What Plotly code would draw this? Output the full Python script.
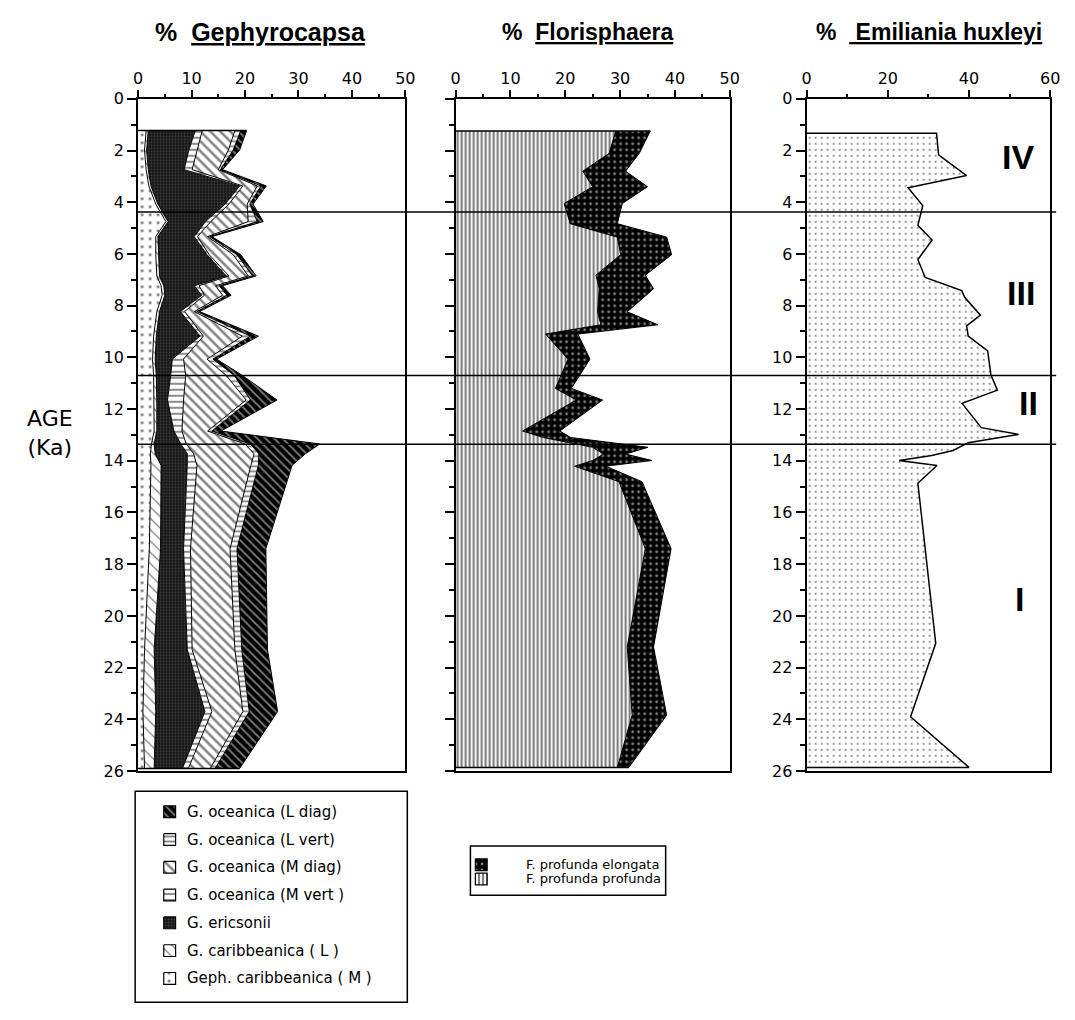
import plotly.graph_objects as go

# ---------------- DATA ----------------
# Gephyrocapsa (individual %, stacked left to right)
geph_age = [1.23, 1.98, 2.74, 3.37, 4.07, 4.75, 5.33, 6.03, 6.85, 7.23, 7.6, 8.23,
            9.18, 10.07, 10.7, 11.65, 12.85, 13.35, 13.73, 14.18, 17.4, 21.3, 23.7, 25.9]
geph_carib_M = [1.5, 1.2, 1.5, 2.0, 3.3, 5.2, 3.3, 3.3, 3.5, 4.3, 4.5, 3.5,
                2.9, 2.7, 2.9, 3.0, 3.0, 2.5, 2.3, 2.4, 2.1, 1.2, 0.9, 1.2]
geph_carib_L = [0.4, 0.4, 0.4, 0.4, 0.4, 0.4, 0.4, 0.5, 0.5, 0.5, 0.5, 0.5,
                0.5, 0.5, 0.5, 0.5, 0.5, 0.5, 0.9, 1.9, 2.1, 1.8, 2.4, 1.8]
geph_ericsonii = [8.8, 7.9, 6.7, 16.6, 12.6, 7.0, 6.8, 9.1, 12.5, 5.7, 6.9, 3.9,
                  8.2, 3.2, 2.7, 2.0, 3.2, 5.0, 6.0, 4.9, 4.3, 6.2, 9.2, 5.3]
geph_ocean_M_vert = [1.3, 1.5, 1.5, 0.6, 0.7, 1.0, 0.6, 0.4, 0.5, 0.9, 0.5, 0.8,
                     0.6, 2.1, 2.8, 3.0, 1.5, 1.0, 1.2, 1.8, 1.3, 0.9, 1.3, 1.1]
geph_ocean_M_diag = [6.1, 5.9, 4.9, 2.7, 3.4, 7.0, 1.9, 4.5, 3.6, 3.1, 3.4, 1.8,
                     7.3, 4.4, 7.6, 11.7, 4.8, 11.0, 11.3, 10.1, 7.4, 8.0, 5.8, 4.1]
geph_ocean_L_vert = [1.1, 0.9, 0.4, 0.7, 0.5, 1.7, 0.4, 0.7, 0.8, 0.7, 0.8, 0.5,
                     1.5, 1.1, 1.5, 0.8, 0.8, 1.0, 0.9, 1.4, 1.3, 1.3, 1.2, 0.9]
geph_ocean_L_diag = [1.1, 1.2, 0.4, 1.0, 0.6, 1.1, 0.4, 0.7, 0.7, 0.6, 0.8, 0.5,
                     1.5, 0.7, 1.5, 5.0, 1.7, 13.0, 8.7, 6.3, 5.4, 4.8, 5.3, 4.6]

# Florisphaera
flor_age = [1.25, 2.11, 2.8, 3.4, 4.05, 4.83, 5.35, 6.03, 6.82, 7.35, 8.24, 8.74, 9.1,
            10.07, 11.2, 11.65, 12.85, 13.1, 13.48, 13.74, 13.99, 14.21, 14.81, 17.4,
            21.2, 23.84, 25.86]
flor_profunda = [29.2, 28.0, 23.2, 25.0, 19.8, 20.9, 29.5, 30.1, 25.6, 26.2, 25.9, 26.5, 16.4,
                 20.5, 18.2, 22.0, 12.2, 16.0, 25.0, 27.0, 25.0, 21.7, 29.8, 34.6,
                 31.3, 32.2, 29.5]
flor_elongata = [6.3, 5.5, 7.8, 10.0, 10.6, 8.6, 9.0, 9.3, 9.0, 9.9, 5.4, 10.4, 5.9,
                 4.0, 2.9, 4.8, 6.8, 5.0, 10.1, 4.0, 10.8, 5.7, 4.2, 4.7,
                 4.8, 6.3, 2.1]

# Emiliania huxleyi
ehux_age = [1.33, 2.17, 2.97, 3.44, 4.13, 4.89, 5.46, 6.22, 6.91, 7.42, 7.67, 8.37, 8.78,
            9.18, 9.75, 10.68, 11.27, 11.78, 12.72, 12.98, 13.3, 13.6, 13.8, 13.99, 14.18,
            14.87, 21.06, 23.9, 25.86]
ehux = [32, 32.5, 39.4, 25, 28.6, 27.4, 30.9, 27.4, 29.2, 38.2, 38.9, 42.8, 39.4,
        39.8, 44.6, 45.4, 47, 38.3, 43, 52.2, 39.8, 36.1, 30.8, 22.8, 32.1,
        27.4, 31.8, 25.6, 40]

zone_bounds = [4.38, 10.70, 13.36]
zone_labels = ["IV", "III", "II", "I"]
zone_label_age = [2.26, 7.53, 11.76, 19.35]
zone_label_x = [52.0, 52.7, 54.7, 52.4]

age_ticks = list(range(0, 27, 2))

# ---------------- STYLE ----------------
W, H = 1075, 1020
FONT = "DejaVu Sans"

PAT = {
    "carib_M": dict(shape=".", fgcolor="black", bgcolor="white", size=8, solidity=0.12),
    "carib_L": dict(shape="\\", fgcolor="black", bgcolor="white", size=8, solidity=0.15),
    "ericsonii": dict(shape=".", fgcolor="#6e6e6e", bgcolor="#151515", size=3, solidity=0.3),
    "M_vert": dict(shape="-", fgcolor="black", bgcolor="white", size=6, solidity=0.3),
    "M_diag": dict(shape="\\", fgcolor="black", bgcolor="white", size=7, solidity=0.35),
    "L_vert": dict(shape="-", fgcolor="black", bgcolor="white", size=5, solidity=0.35),
    "L_diag": dict(shape="\\", fgcolor="white", bgcolor="black", size=6, solidity=0.3),
    "profunda": dict(shape="|", fgcolor="black", bgcolor="white", size=4, solidity=0.55),
    "elongata": dict(shape=".", fgcolor="white", bgcolor="black", size=6, solidity=0.18),
    "ehux": dict(shape=".", fgcolor="black", bgcolor="white", size=6, solidity=0.1),
}

geph_series = [
    ("Geph. caribbeanica ( M )", geph_carib_M, "carib_M"),
    ("G. caribbeanica ( L )", geph_carib_L, "carib_L"),
    ("G. ericsonii", geph_ericsonii, "ericsonii"),
    ("G. oceanica (M vert )", geph_ocean_M_vert, "M_vert"),
    ("G. oceanica (M diag)", geph_ocean_M_diag, "M_diag"),
    ("G. oceanica (L vert)", geph_ocean_L_vert, "L_vert"),
    ("G. oceanica (L diag)", geph_ocean_L_diag, "L_diag"),
]
flor_series = [
    ("F. profunda profunda", flor_profunda, "profunda"),
    ("F. profunda elongata", flor_elongata, "elongata"),
]

fig = go.Figure()

LINE = dict(color="black", width=1)

for name, vals, key in geph_series:
    fig.add_trace(go.Scatter(
        x=vals, y=geph_age, name=name, mode="lines", stackgroup="geph",
        orientation="h", line=LINE, fillpattern=PAT[key], showlegend=False,
        xaxis="x", yaxis="y", hoverinfo="skip"))
geph_tot = [sum(v) for v in zip(*[s[1] for s in geph_series])]
for i in (0, -1):
    fig.add_trace(go.Scatter(x=[0, geph_tot[i]], y=[geph_age[i], geph_age[i]], mode="lines",
                             line=dict(color="black", width=1.5), showlegend=False,
                             xaxis="x", yaxis="y", hoverinfo="skip"))

for name, vals, key in flor_series:
    fig.add_trace(go.Scatter(
        x=vals, y=flor_age, name=name, mode="lines", stackgroup="flor",
        orientation="h", line=LINE, fillpattern=PAT[key], showlegend=False,
        xaxis="x2", yaxis="y2", hoverinfo="skip"))
flor_tot = [a + b for a, b in zip(flor_profunda, flor_elongata)]
for i in (0, -1):
    fig.add_trace(go.Scatter(x=[0, flor_tot[i]], y=[flor_age[i], flor_age[i]], mode="lines",
                             line=dict(color="black", width=1.5), showlegend=False,
                             xaxis="x2", yaxis="y2", hoverinfo="skip"))

fig.add_trace(go.Scatter(
    x=[0] + ehux + [0], y=[ehux_age[0]] + ehux_age + [ehux_age[-1]],
    mode="lines", fill="toself", fillpattern=PAT["ehux"], line=dict(color="black", width=1.5),
    name="Emiliania huxleyi", showlegend=False, xaxis="x3", yaxis="y3", hoverinfo="skip"))

# ---------------- AXES ----------------
Y_TOP, Y_BOT = 91.5, 776.5
ydom = [1 - Y_BOT / H, 1 - Y_TOP / H]
panels = [(135, 406, 50, 10), (457, 735, 50, 10), (813, 1060, 60, 20)]

for k, (x0, x1, xmax, dt) in enumerate(panels, start=1):
    sfx = "" if k == 1 else str(k)
    fig.layout["xaxis" + sfx] = dict(
        domain=[x0 / W, x1 / W], range=[0, xmax], side="top", anchor="y" + sfx,
        tickmode="array", tickvals=list(range(0, xmax + 1, dt)),
        ticks="outside", ticklen=7, tickwidth=1.5, tickcolor="black",
        minor=dict(dtick=dt / 2, ticks="outside", ticklen=3, tickwidth=1.5, tickcolor="black"),
        showline=True, linewidth=1.5, linecolor="black", mirror=True,
        showgrid=False, zeroline=False,
        tickfont=dict(family=FONT, size=16, color="black"), fixedrange=True)
    fig.layout["yaxis" + sfx] = dict(
        domain=ydom, range=[26, 0], anchor="x" + sfx,
        tickmode="array", tickvals=age_ticks, showticklabels=(k != 2),
        ticks="outside", ticklen=9, tickwidth=1.5, tickcolor="black",
        minor=dict(dtick=1, ticks="outside", ticklen=5, tickwidth=1.5, tickcolor="black"),
        showline=True, linewidth=2, linecolor="black", mirror=True,
        showgrid=False, zeroline=False,
        tickfont=dict(family=FONT, size=16, color="black"), fixedrange=True)

# auxiliary pixel-space axes for legend boxes
fig.layout["xaxis4"] = dict(domain=[0, 1], range=[0, W], visible=False, anchor="y4", fixedrange=True)
fig.layout["yaxis4"] = dict(domain=[0, 1], range=[H, 0], visible=False, anchor="x4", fixedrange=True)

shapes = []
for b in zone_bounds:
    shapes.append(dict(type="line", xref="paper", yref="y", x0=133 / W, x1=1066 / W,
                       y0=b, y1=b, line=dict(color="black", width=1.5)))

annotations = []
# titles
annotations.append(dict(xref="paper", yref="paper", x=150 / W, y=1 - 23 / H, xanchor="left",
                        yanchor="middle", showarrow=False,
                        text="<b>%  <u>Gephyrocapsa</u></b>",
                        font=dict(family="Liberation Sans", size=25, color="black")))
annotations.append(dict(xref="paper", yref="paper", x=502 / W, y=1 - 23 / H, xanchor="left",
                        yanchor="middle", showarrow=False,
                        text="<b>%  <u>Florisphaera</u></b>",
                        font=dict(family="Liberation Sans", size=23, color="black")))
annotations.append(dict(xref="paper", yref="paper", x=820 / W, y=1 - 23 / H, xanchor="left",
                        yanchor="middle", showarrow=False,
                        text="<b>%  <u> Emiliania huxleyi</u></b>",
                        font=dict(family="Liberation Sans", size=23, color="black")))
annotations.append(dict(xref="paper", yref="paper", x=46 / W, y=1 - 432 / H, xanchor="center",
                        yanchor="middle", showarrow=False, text="AGE<br>(Ka)",
                        font=dict(family=FONT, size=22, color="black")))
for lab, a, xv in zip(zone_labels, zone_label_age, zone_label_x):
    annotations.append(dict(xref="x3", yref="y3", x=xv, y=a, showarrow=False, text="<b>%s</b>" % lab,
                            font=dict(family="Liberation Sans", size=34, color="black")))

# ---------------- MANUAL LEGENDS ----------------
def legend_block(series, box, sw_x, txt_x, row0, pitch, order, fsize):
    bx0, by0, bx1, by1 = box
    shapes.append(dict(type="rect", xref="x4", yref="y4", x0=bx0, x1=bx1, y0=by0, y1=by1,
                       line=dict(color="black", width=1.5), fillcolor="rgba(0,0,0,0)"))
    for r, idx in enumerate(order):
        name, _, key = series[idx]
        yc = row0 + r * pitch
        s = 12
        fig.add_trace(go.Scatter(
            x=[sw_x, sw_x + s, sw_x + s, sw_x, sw_x], y=[yc - s / 2, yc - s / 2, yc + s / 2, yc + s / 2, yc - s / 2],
            mode="lines", fill="toself", fillpattern=PAT[key], line=dict(color="black", width=1.2),
            showlegend=False, xaxis="x4", yaxis="y4", hoverinfo="skip"))
        annotations.append(dict(xref="x4", yref="y4", x=txt_x, y=yc, xanchor="left", yanchor="middle",
                                showarrow=False, text=name,
                                font=dict(family=FONT, size=fsize, color="black")))

legend_block(geph_series, (132, 797, 408, 1012), 161, 183, 818, 28.3, [6, 5, 4, 3, 2, 1, 0], 15)
legend_block(flor_series, (472, 853, 670, 903), 477, 526, 872, 14.5, [1, 0], 13)

fig.update_layout(width=W, height=H, margin=dict(l=0, r=0, t=0, b=0),
                  paper_bgcolor="white", plot_bgcolor="rgba(0,0,0,0)",
                  shapes=shapes, annotations=annotations, showlegend=False)

fig.write_html("out.html")
